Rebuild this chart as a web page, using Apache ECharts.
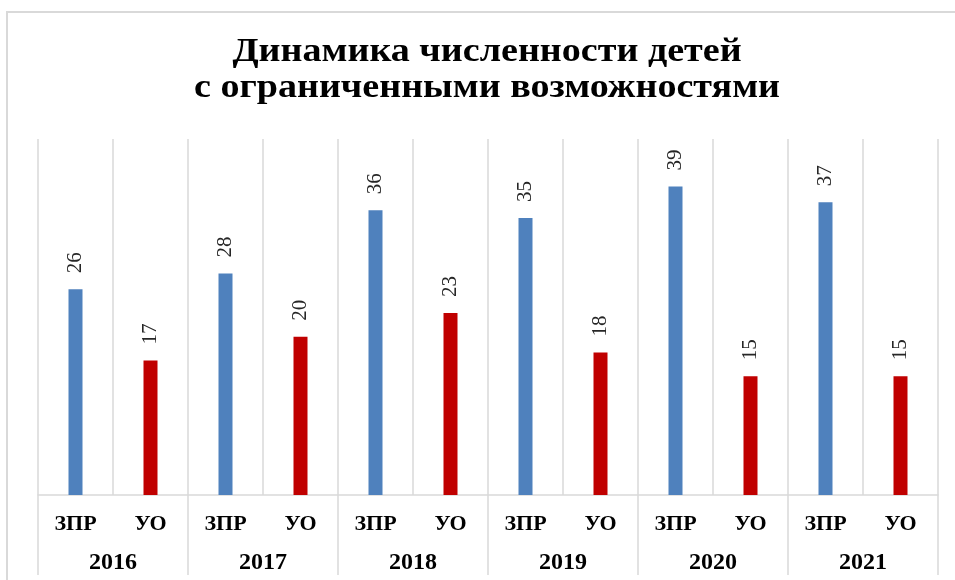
<!DOCTYPE html>
<html>
<head>
<meta charset="utf-8">
<script src="https://cdn.jsdelivr.net/npm/echarts@6/dist/echarts.min.js"></script>
<style>
  html, body { margin: 0; padding: 0; background: #fff; }
  #chart { width: 955px; height: 580px; }
</style>
</head>
<body>
<div id="chart"></div>
<script>
// данные
var groups = ['ЗПР', 'УО', 'ЗПР', 'УО', 'ЗПР', 'УО', 'ЗПР', 'УО', 'ЗПР', 'УО', 'ЗПР', 'УО'];
var years = ['2016', '2017', '2018', '2019', '2020', '2021'];
var values = [26, 17, 28, 20, 36, 23, 35, 18, 39, 15, 37, 15];
var colors = ['#4f81bd', '#c00000'];
var titleLines = ['Динамика численности детей', 'с ограниченными возможностями'];

var chart = echarts.init(document.getElementById('chart'));

var serif = 'Liberation Serif, Times New Roman, serif';
var gridColor = '#d9d9d9';

// заголовок: растянут по ширине, как в оригинале
function titleText(str, y) {
   return {
      type: 'text',
      x: 487,
      y: y,
      scaleX: 1.12,
      silent: true,
      style: {
         text: str,
         font: 'bold 34px ' + serif,
         textAlign: 'center',
         textVerticalAlign: 'middle',
         fill: '#000'
      }
   };
}

var option = {
   animation: false,
   backgroundColor: '#fff',
   graphic: [{
      // рамка
      type: 'rect',
      shape: { x: 7, y: 12, width: 960, height: 600 },
      style: { fill: 'none', stroke: gridColor, lineWidth: 2 },
      silent: true
   },
      titleText(titleLines[0], 52),
      titleText(titleLines[1], 88)
   ],
   grid: {
      left: 38,
      right: 17,
      top: 139,
      bottom: 85
   },
   xAxis: [{
      type: 'category',
      data: groups,
      axisLine: { show: true, lineStyle: { color: gridColor, width: 1.5 } },
      axisTick: { show: false },
      splitLine: { show: true, interval: 0, lineStyle: { color: gridColor, width: 1.5 } },
      axisLabel: {
         interval: 0,
         margin: 18,
         fontFamily: serif,
         fontWeight: 'bold',
         fontSize: 22,
         color: '#000'
      }
   }, {
      type: 'category',
      data: years,
      position: 'bottom',
      axisLine: { show: false },
      axisTick: { show: true, length: 80, lineStyle: { color: gridColor, width: 1.5 } },
      axisLabel: {
         interval: 0,
         margin: 56,
         fontFamily: serif,
         fontWeight: 'bold',
         fontSize: 24,
         color: '#000'
      }
   }],
   yAxis: {
      type: 'value',
      min: 0,
      max: 45,
      show: false,
      splitLine: { show: false }
   },
   series: [{
      type: 'bar',
      xAxisIndex: 0,
      barWidth: 14,
      data: values.map(function (v, i) {
         return { value: v, itemStyle: { color: colors[i % 2] } };
      }),
      label: {
         show: true,
         position: 'top',
         rotate: 90,
         align: 'left',
         verticalAlign: 'middle',
         distance: 16,
         fontFamily: serif,
         fontSize: 21,
         color: '#262626'
      }
   }]
};

chart.setOption(option);
</script>
</body>
</html>
